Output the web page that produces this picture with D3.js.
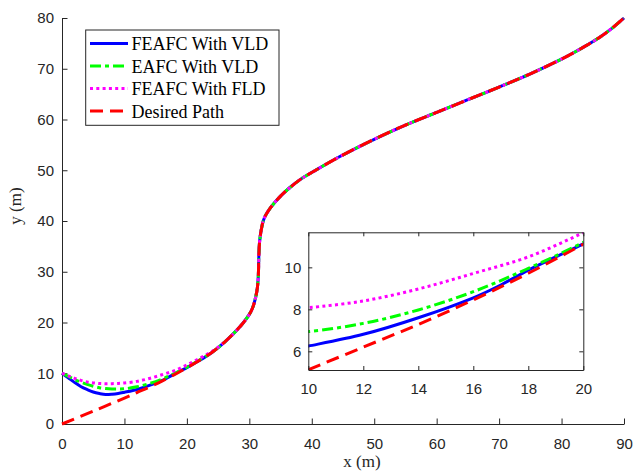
<!DOCTYPE html>
<html><head><meta charset="utf-8">
<script src="https://cdn.jsdelivr.net/npm/d3@7"></script>
<style>
body{margin:0;background:#fff;}
svg{display:block;}
.tick text{font-family:"Liberation Sans",Arial,sans-serif;fill:#262626;}
.tick line,.domain{stroke:#262626;}
</style></head>
<body><svg id="c" width="634" height="471"></svg>
<script>
// ---- data ----
const xTicks = [0,10,20,30,40,50,60,70,80,90];
const yTicks = [0,10,20,30,40,50,60,70,80];
const insetXTicks = [10,12,14,16,18,20];
const insetYTicks = [6,8,10];
const seriesNames = ["FEAFC With VLD","EAFC With VLD","FEAFC With FLD","Desired Path"];

const pathX = [0,5,10,12,14,16,18,20,22,24,26,28,29,30,30.5,31,31.3,31.45,31.52,31.65,31.9,32.2,32.6,33.2,33.9,35,36.5,38.3,40.2,44.5,50,55,60,65,70,75,80,82,84,86,88,90];
const pathY = [0,2.52,5.12,6.2,7.28,8.45,9.72,11.1,12.5,14.1,16.1,18.5,19.9,21.6,22.8,24.9,27,29.5,33,36,38.2,39.9,41.1,42.3,43.4,44.9,46.6,48.3,49.7,52.7,56.1,58.9,61.4,63.9,66.4,69,71.9,73.2,74.6,76.1,77.9,80];

const blueX = [0,1,2,3,4,5,6,7,8,9,10,12,14,16,17,18,19,20];
const blueY = [10,9.1,8.2,7.4,6.8,6.3,6.0,5.8,5.85,6.0,6.25,6.81,7.6,8.55,9.16,9.87,10.5,11.12];

const greenX = [0,1,2,3,4,5,6,7,8,9,10,12,14,16,18,20,22];
const greenY = [10,9.4,8.8,8.25,7.8,7.45,7.15,6.98,6.9,6.9,6.94,7.33,7.97,8.84,9.95,11.19,12.6];

const magentaX = [0,1,2,3,4,5,6,7,8,9,10,12,14,16,18,20,22,24];
const magentaY = [10,9.5,9.0,8.6,8.3,8.1,7.98,7.93,7.95,8.0,8.08,8.4,8.97,9.71,10.5,11.65,12.9,14.3];

// ---- build series ----
const pts = (xs, ys) => xs.map((x,i)=>[x, ys[i]]);
const desired = pts(pathX, pathY);
const withTail = (xs, ys) => { const a = pts(xs, ys); const last = xs[xs.length-1]; return a.concat(desired.filter(d=>d[0]>last)); };
const series = [
  {name: seriesNames[0], data: withTail(blueX, blueY), color:"#0000ff", dash:null},
  {name: seriesNames[1], data: withTail(greenX, greenY), color:"#00ff00", dash:"11,4,4,4"},
  {name: seriesNames[2], data: withTail(magentaX, magentaY), color:"#ff00ff", dash:"3,3.3"},
  {name: seriesNames[3], data: desired, color:"#ff0000", dash:"13,7"}
];

const svg = d3.select("#c");
const W = 3;
const curve = d3.curveCatmullRom.alpha(0.5);

// ---- main axes ----
const x = d3.scaleLinear().domain([0,90]).range([62,624]);
const y = d3.scaleLinear().domain([0,80]).range([424,18]);

const gx = svg.append("g").attr("transform","translate(0,424)")
  .call(d3.axisBottom(x).tickValues(xTicks).tickSize(-5.5).tickSizeOuter(0).tickPadding(14));
const gy = svg.append("g").attr("transform","translate(62,0)")
  .call(d3.axisLeft(y).tickValues(yTicks).tickSize(-5.5).tickSizeOuter(0).tickPadding(8));
[gx,gy].forEach(g=>g.selectAll(".tick text").style("font-size","15px"));
svg.selectAll(".domain").attr("stroke-width",1);

const line = d3.line().x(d=>x(d[0])).y(d=>y(d[1])).curve(curve);
series.forEach(s=>{
  svg.append("path").attr("d", line(s.data)).attr("fill","none")
    .attr("stroke", s.color).attr("stroke-width", W)
    .attr("stroke-dasharray", s.dash);
});

// axis labels
svg.append("text").attr("x",362).attr("y",467).attr("text-anchor","middle")
  .style("font-family","'Liberation Serif','Times New Roman',serif").style("font-size","17px").attr("fill","#262626").text("x (m)");
svg.append("text").attr("transform","translate(21,206) rotate(-90)").attr("text-anchor","middle")
  .style("font-family","'Liberation Serif','Times New Roman',serif").style("font-size","17px").attr("fill","#262626").text("y (m)");

// ---- legend ----
const lg = svg.append("g");
lg.append("rect").attr("x",85.7).attr("y",30).attr("width",193.3).attr("height",95.3)
  .attr("fill","#fff").attr("stroke","#262626").attr("stroke-width",1);
series.forEach((s,i)=>{
  const cy = 43.5 + i*22.5;
  lg.append("line").attr("x1",90).attr("x2",128).attr("y1",cy).attr("y2",cy)
    .attr("stroke",s.color).attr("stroke-width",W).attr("stroke-dasharray",s.dash);
  lg.append("text").attr("x",131.5).attr("y",cy+6.5)
    .style("font-family","'Liberation Serif','Times New Roman',serif").style("font-size","18px")
    .attr("fill","#000").text(s.name);
});

// ---- inset ----
const ix = d3.scaleLinear().domain([10,20]).range([308.3,583.3]);
const iy = d3.scaleLinear().domain([5.11,11.67]).range([370,232.3]);
const ig = svg.append("g");
ig.append("rect").attr("x",308.3).attr("y",232.3).attr("width",275).attr("height",137.7).attr("fill","#fff");
svg.append("clipPath").attr("id","ic").append("rect").attr("x",308.3).attr("y",232.3).attr("width",275).attr("height",137.7);
const iline = d3.line().x(d=>ix(d[0])).y(d=>iy(d[1])).curve(curve);
const ic = ig.append("g").attr("clip-path","url(#ic)");
series.forEach(s=>{
  ic.append("path").attr("d", iline(s.data.filter(d=>d[0]>=8 && d[0]<=24))).attr("fill","none")
    .attr("stroke", s.color).attr("stroke-width", W).attr("stroke-dasharray", s.dash);
});
const fmt = d3.format("d");
const ib = ig.append("g").attr("transform","translate(0,370)")
  .call(d3.axisBottom(ix).tickValues(insetXTicks).tickFormat(fmt).tickSize(-4).tickSizeOuter(0).tickPadding(13));
const il = ig.append("g").attr("transform","translate(308.3,0)")
  .call(d3.axisLeft(iy).tickValues(insetYTicks).tickFormat(fmt).tickSize(-4).tickSizeOuter(0).tickPadding(7));
ig.append("g").attr("transform","translate(0,232.3)")
  .call(d3.axisTop(ix).tickValues(insetXTicks).tickSize(-4).tickSizeOuter(0).tickFormat(""));
ig.append("g").attr("transform","translate(583.3,0)")
  .call(d3.axisRight(iy).tickValues(insetYTicks).tickSize(-4).tickSizeOuter(0).tickFormat(""));
[ib,il].forEach(g=>g.selectAll(".tick text").style("font-size","15px"));
</script></body></html>
